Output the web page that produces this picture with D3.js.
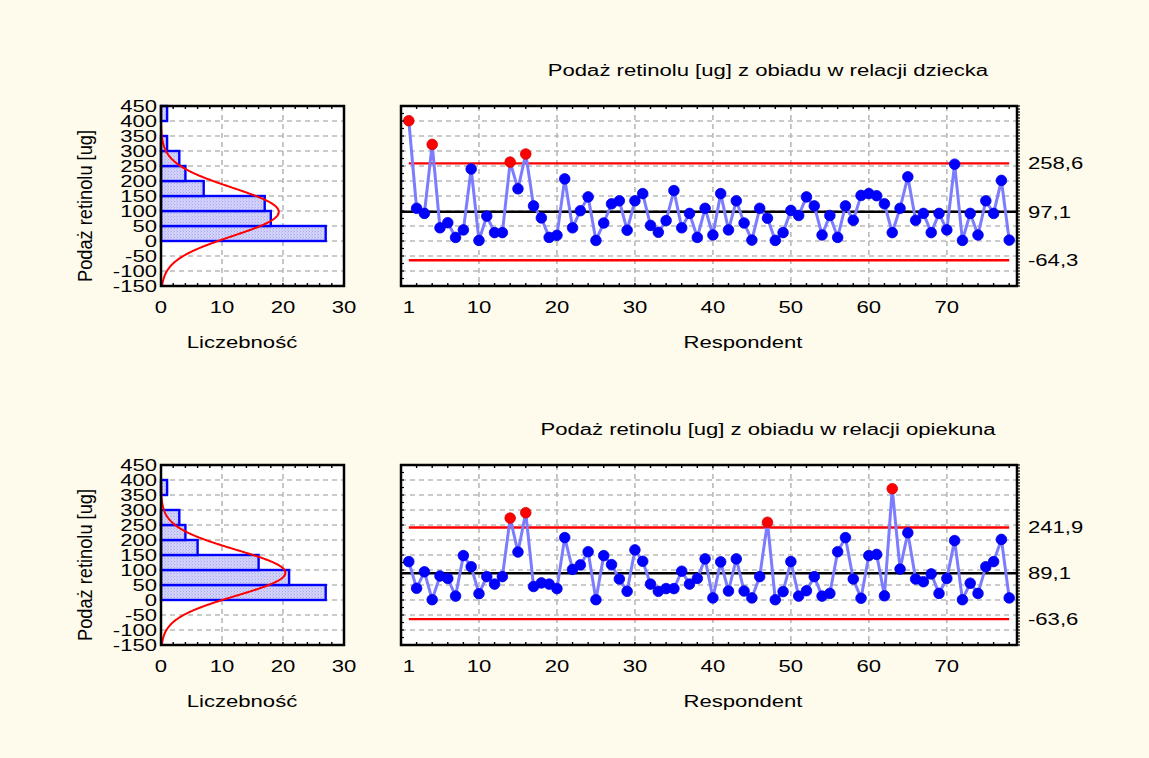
<!DOCTYPE html>
<html>
<head>
<meta charset="utf-8">
<script src="https://cdn.jsdelivr.net/npm/d3@7"></script>
<style>
  html, body { margin: 0; padding: 0; background: #fffbec; }
  svg { display: block; }
  text { font-family: "Liberation Sans", Arial, sans-serif; font-size: 16px; fill: #000; }
</style>
</head>
<body>
<svg id="chart" width="1149" height="758"></svg>
<script>
// Retinol supply from lunch, per respondent (µg)
const respondents = d3.range(1, 79);

const childIntake = [
  401, 109, 92, 322, 44, 61, 12, 37, 240, 2,
  83, 28, 28, 263, 174, 290, 117, 77, 12, 19,
  207, 44, 101, 147, 2, 60, 124, 134, 36, 134,
  158, 52, 29, 68, 168, 44, 92, 12, 109, 20,
  158, 37, 134, 60, 3, 109, 76, 2, 28, 102,
  85, 147, 117, 20, 85, 12, 117, 69, 152, 158,
  151, 124, 28, 109, 214, 69, 92, 28, 92, 37,
  256, 2, 92, 20, 134, 92, 202, 3
];

const carerIntake = [
  128, 39, 94, 1, 80, 72, 13, 148, 111, 21,
  78, 53, 78, 273, 160, 291, 45, 57, 53, 38,
  208, 102, 117, 161, 1, 148, 118, 70, 29, 167,
  129, 53, 29, 38, 38, 96, 53, 72, 137, 7,
  127, 30, 137, 30, 7, 78, 259, 1, 28, 128,
  13, 31, 78, 13, 22, 161, 208, 70, 6, 148,
  152, 14, 371, 103, 224, 70, 61, 87, 22, 72,
  198, 1, 56, 22, 111, 128, 202, 7
];

// Control limits: upper, centre, lower
const childLimits = [258.6, 97.1, -64.3];
const carerLimits = [241.9, 89.1, -63.6];

const titles = [
  "Podaż retinolu [ug] z obiadu w relacji dziecka",
  "Podaż retinolu [ug] z obiadu w relacji opiekuna"
];
const yAxisTitle = "Podaż retinolu [ug]";
const histAxisTitle = "Liczebność";
const ctrlAxisTitle = "Respondent";

const yTicks = d3.range(-150, 451, 50);
const binEdges = d3.range(-150, 451, 50);
const histTicks = [0, 10, 20, 30];
const respTicks = [1, 10, 20, 30, 40, 50, 60, 70];
const respGrid = [10, 20, 30, 40, 50, 60, 70];

const svg = d3.select("#chart");
const SX = 1.38;           // wide lettering
const gridColor = "#b9b9b9";

const defs = svg.append("defs");
const pat = defs.append("pattern").attr("id", "hatch")
  .attr("patternUnits", "userSpaceOnUse").attr("width", 3).attr("height", 3);
pat.append("rect").attr("width", 3).attr("height", 3).attr("fill", "#d2d2fb");
pat.append("rect").attr("x", 0).attr("y", 0).attr("width", 1).attr("height", 1).attr("fill", "#a9a9ef");
pat.append("rect").attr("x", 2).attr("y", 1.5).attr("width", 1).attr("height", 1).attr("fill", "#b4b4f2");

function label(g, str, x, y, anchor) {
  return g.append("text")
    .attr("transform", `translate(${x},${y}) scale(${SX},1)`)
    .attr("text-anchor", anchor || "middle")
    .attr("dy", "0.36em")
    .text(str);
}
const comma = v => d3.format(".1f")(v).replace(".", ",").replace("\u2212", "-");

function panel(values, limits, title, top) {
  const bottom = top + 180;
  const y = d3.scaleLinear().domain([-150, 450]).range([bottom, top]);
  const xh = d3.scaleLinear().domain([0, 30]).range([161, 344]);
  const xc = d3.scaleLinear().domain([0, 79]).range([401, 1017]);
  const g = svg.append("g");
  const [ucl, centre, lcl] = limits;

  // plot backgrounds
  [xh, xc].forEach(x => {
    g.append("rect").attr("x", x.range()[0]).attr("y", top)
      .attr("width", x.range()[1] - x.range()[0]).attr("height", bottom - top)
      .attr("fill", "#fff");
  });

  // horizontal grid
  const inner = yTicks.filter(v => v > -150 && v < 450);
  [xh, xc].forEach(x => {
    g.append("g").selectAll("line").data(inner).join("line")
      .attr("x1", x.range()[0]).attr("x2", x.range()[1])
      .attr("y1", d => y(d)).attr("y2", d => y(d))
      .attr("stroke", gridColor).attr("stroke-width", 1.6).attr("stroke-dasharray", "5,4");
  });
  // vertical grid
  g.append("g").selectAll("line").data([10, 20]).join("line")
    .attr("x1", d => xh(d)).attr("x2", d => xh(d)).attr("y1", top).attr("y2", bottom)
    .attr("stroke", gridColor).attr("stroke-width", 1.6).attr("stroke-dasharray", "5,4");
  g.append("g").selectAll("line").data(respGrid).join("line")
    .attr("x1", d => xc(d)).attr("x2", d => xc(d)).attr("y1", top).attr("y2", bottom)
    .attr("stroke", gridColor).attr("stroke-width", 1.6).attr("stroke-dasharray", "5,4");

  // histogram
  const bins = d3.bin().domain([-150, 450]).thresholds(binEdges)(values);
  g.append("g").selectAll("rect").data(bins.filter(b => b.length > 0)).join("rect")
    .attr("x", xh(0)).attr("y", d => y(d.x1))
    .attr("width", d => xh(d.length) - xh(0))
    .attr("height", d => y(d.x0) - y(d.x1))
    .attr("fill", "url(#hatch)").attr("stroke", "#0000ff").attr("stroke-width", 2.4);

  // fitted normal curve
  const m = d3.mean(values), s = d3.deviation(values), n = values.length;
  const curveVals = d3.range(-150, 451, 2);
  const dens = v => n * 50 / (s * Math.sqrt(2 * Math.PI)) * Math.exp(-0.5 * ((v - m) / s) ** 2);
  g.append("path").datum(curveVals)
    .attr("d", d3.line().x(v => xh(dens(v))).y(v => y(v)))
    .attr("fill", "none").attr("stroke", "#ff0000").attr("stroke-width", 2);

  // control limits
  g.append("line").attr("x1", xc.range()[0]).attr("x2", xc.range()[1])
    .attr("y1", y(centre)).attr("y2", y(centre)).attr("stroke", "#000").attr("stroke-width", 2.5);
  [ucl, lcl].forEach(v => {
    g.append("line").attr("x1", xc(1)).attr("x2", xc(78))
      .attr("y1", y(v)).attr("y2", y(v)).attr("stroke", "#ff0000").attr("stroke-width", 2.4);
  });

  // series
  g.append("path").datum(values)
    .attr("d", d3.line().x((d, i) => xc(respondents[i])).y(d => y(d)))
    .attr("fill", "none").attr("stroke", "#7c7cff").attr("stroke-width", 3);
  g.append("g").selectAll("circle").data(values).join("circle")
    .attr("cx", (d, i) => xc(respondents[i])).attr("cy", d => y(d)).attr("r", 5.3)
    .attr("fill", d => d > ucl || d < lcl ? "#ff0000" : "#0000ff")
    .attr("stroke", d => d > ucl || d < lcl ? "#d00000" : "#0000e6").attr("stroke-width", 0.8);

  // frames and ticks
  [xh, xc].forEach(x => {
    g.append("rect").attr("x", x.range()[0]).attr("y", top)
      .attr("width", x.range()[1] - x.range()[0]).attr("height", bottom - top)
      .attr("fill", "none").attr("stroke", "#000").attr("stroke-width", 2.5);
  });
  const minorY = d3.range(-150, 451, 10);
  g.append("g").selectAll("line").data(minorY).join("line")
    .attr("x1", xc.range()[1]).attr("x2", xc.range()[1] + 3)
    .attr("y1", d => y(d)).attr("y2", d => y(d)).attr("stroke", "#000").attr("stroke-width", 1.2);
  g.append("g").selectAll("line").data(d3.range(-150, 451, 25)).join("line")
    .attr("x1", xc.range()[0]).attr("x2", xc.range()[0] + 3)
    .attr("y1", d => y(d)).attr("y2", d => y(d)).attr("stroke", "#000").attr("stroke-width", 1.2);
  const minorX = d3.range(2, 79, 2);
  [top, bottom].forEach((yy, k) => {
    g.append("g").selectAll("line").data(minorX).join("line")
      .attr("x1", d => xc(d)).attr("x2", d => xc(d))
      .attr("y1", yy).attr("y2", k ? yy - 3 : yy + 3).attr("stroke", "#000").attr("stroke-width", 1.4);
    g.append("g").selectAll("line").data(d3.range(2, 30, 2)).join("line")
      .attr("x1", d => xh(d)).attr("x2", d => xh(d))
      .attr("y1", yy).attr("y2", k ? yy - 3 : yy + 3).attr("stroke", "#000").attr("stroke-width", 1.4);
  });

  // text
  label(g, title, 768, top - 36);
  yTicks.forEach(v => label(g, String(v), 157, y(v), "end"));
  histTicks.forEach(v => label(g, String(v), xh(v), bottom + 21));
  respTicks.forEach(v => label(g, String(v), xc(v), bottom + 21));
  label(g, histAxisTitle, 242, bottom + 56);
  label(g, ctrlAxisTitle, 743, bottom + 56);
  limits.forEach(v => label(g, comma(v), 1028, y(v), "start"));
  g.append("text")
    .attr("transform", `translate(85,${top + 100}) rotate(-90) scale(1.14,1.25)`)
    .attr("text-anchor", "middle").attr("dy", "0.36em")
    .text(yAxisTitle);
}

panel(childIntake, childLimits, titles[0], 106);
panel(carerIntake, carerLimits, titles[1], 465);
</script>
</body>
</html>
